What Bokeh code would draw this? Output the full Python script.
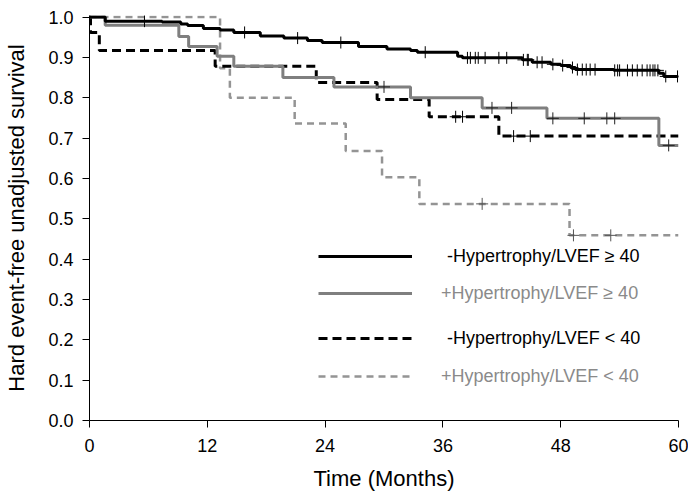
import numpy as np
from bokeh.plotting import figure
from bokeh.models import Range1d, Legend, LegendItem, FixedTicker, NumeralTickFormatter
from bokeh.embed import file_html
from bokeh.resources import INLINE

# ---- data ----
x_ticks = [0, 12, 24, 36, 48, 60]
y_ticks = [0.0, 0.1, 0.2, 0.3, 0.4, 0.5, 0.6, 0.7, 0.8, 0.9, 1.0]

labels = ["-Hypertrophy/LVEF \u2265 40", "+Hypertrophy/LVEF \u2265 40",
          "-Hypertrophy/LVEF < 40", "+Hypertrophy/LVEF < 40"]

# -Hypertrophy / LVEF >= 40
t_a = [0, 1.6, 7.4, 9.3, 10.0, 11.6, 13.3, 14.7, 17.4, 19.8, 22.2, 23.7, 27.4, 30.3,
       32.7, 33.4, 37.5, 38.0, 44.1, 45.1, 47.0, 48.0, 49.0, 49.5, 53.4, 58.0, 58.5, 60]
s_a = [1.0, 0.99, 0.988, 0.983, 0.979, 0.972, 0.968, 0.962, 0.953, 0.948, 0.942, 0.937,
       0.927, 0.921, 0.917, 0.913, 0.903, 0.899, 0.894, 0.888, 0.883, 0.880, 0.875, 0.870,
       0.868, 0.861, 0.853, 0.853]
c_a = [5.6, 15.8, 21.2, 25.6, 34.2, 38.5, 38.8, 39.3, 39.6, 40.3, 41.7, 42.5, 44.2, 44.6,
       44.7, 45.6, 46.1, 47.2, 48.2, 49.2, 49.7, 50.2, 50.6, 51.0, 51.5, 53.5, 53.8, 54.0,
       54.8, 55.3, 55.8, 56.3, 56.8, 57.1, 57.4, 57.6, 57.9, 58.7, 59.9]

# +Hypertrophy / LVEF >= 40
t_b = [0, 1.6, 9.1, 10.1, 13.0, 14.7, 19.7, 24.9, 32.7, 40.0, 46.6, 58.0, 60]
s_b = [1.0, 0.98, 0.952, 0.927, 0.903, 0.878, 0.850, 0.827, 0.800, 0.775, 0.749, 0.682, 0.682]
c_b = [30.0, 41.0, 43.0, 47.2, 50.4, 52.7, 53.5, 59.0]

# -Hypertrophy / LVEF < 40
t_c = [0, 0.1, 1.0, 12.8, 23.1, 29.3, 34.6, 41.7, 60]
s_c = [1.0, 0.962, 0.917, 0.878, 0.838, 0.796, 0.753, 0.705, 0.705]
c_c = [37.3, 38.0, 43.2, 44.9]

# +Hypertrophy / LVEF < 40
t_d = [0, 13.3, 14.3, 20.9, 26.1, 29.8, 33.6, 48.9, 60]
s_d = [1.0, 0.873, 0.800, 0.736, 0.668, 0.603, 0.537, 0.459, 0.459]
c_d = [40.0, 49.3, 53.1]


def censor_y(times, surv, ct):
    idx = np.searchsorted(np.array(times), np.array(ct), side="right") - 1
    return list(np.array(surv)[idx])


FONT = "Liberation Sans"

p = figure(width=688, height=493, output_backend="svg", toolbar_location=None,
           x_range=Range1d(0, 60), y_range=Range1d(0, 1.004),
           min_border_left=89, min_border_right=10, min_border_top=15, min_border_bottom=70)
p.outline_line_color = None
p.xgrid.visible = False
p.ygrid.visible = False
p.background_fill_color = "white"
p.border_fill_color = "white"

for ax in (p.xaxis[0], p.yaxis[0]):
    ax.axis_line_color = "black"
    ax.axis_line_width = 1
    ax.major_tick_line_color = "black"
    ax.major_tick_out = 7
    ax.major_tick_in = 0
    ax.minor_tick_line_color = None
    ax.major_label_text_font = FONT
    ax.major_label_text_font_size = "18px"
    ax.major_label_text_color = "black"
    ax.axis_label_text_font = FONT
    ax.axis_label_text_font_size = "22px"
    ax.axis_label_text_font_style = "normal"
    ax.axis_label_text_color = "black"

p.xaxis.ticker = FixedTicker(ticks=x_ticks)
p.yaxis.ticker = FixedTicker(ticks=y_ticks)
p.yaxis.formatter = NumeralTickFormatter(format="0.0")
p.xaxis.axis_label = "Time (Months)"
p.yaxis.axis_label = "Hard event-free unadjusted survival"
p.xaxis.major_label_standoff = 11
p.yaxis.major_label_standoff = 9
p.xaxis.axis_label_standoff = 11
p.yaxis.axis_label_standoff = 16

styles = [
    dict(color="black", width=3, dash="solid", mcolor="black", lcolor="black", standoff=35),
    dict(color="#7f7f7f", width=3, dash="solid", mcolor="#222222", lcolor="#8a8a8a", standoff=29),
    dict(color="black", width=3, dash="9 5", mcolor="black", lcolor="black", standoff=35),
    dict(color="#949494", width=2.5, dash="7 5", mcolor="#555555", lcolor="#8a8a8a", standoff=29),
]
series = [(t_a, s_a, c_a), (t_b, s_b, c_b), (t_c, s_c, c_c), (t_d, s_d, c_d)]

order = [3, 2, 1, 0]
rmap = {}
for i in order:
    t, s, c = series[i]
    st = styles[i]
    r = p.step(t, s, mode="after", line_color=st["color"], line_width=st["width"],
               line_dash=st["dash"])
    rmap[i] = r
    p.scatter(c, censor_y(t, s, c), marker="cross", size=12, line_color=st["mcolor"],
              line_width=1)

legend_y = [148, 111, 66, 28]
for i in range(4):
    st = styles[i]
    lg = Legend(items=[LegendItem(label=labels[i], renderers=[rmap[i]])],
                location=(229, legend_y[i]), orientation="vertical",
                glyph_width=94, glyph_height=20, label_height=32,
                label_standoff=st["standoff"], padding=0, margin=0, spacing=0,
                border_line_alpha=0, background_fill_alpha=0,
                label_text_font=FONT, label_text_font_size="18px",
                label_text_baseline="bottom",
                label_text_color=st["lcolor"])
    p.add_layout(lg)

open("out.html", "w").write(file_html(p, INLINE))
